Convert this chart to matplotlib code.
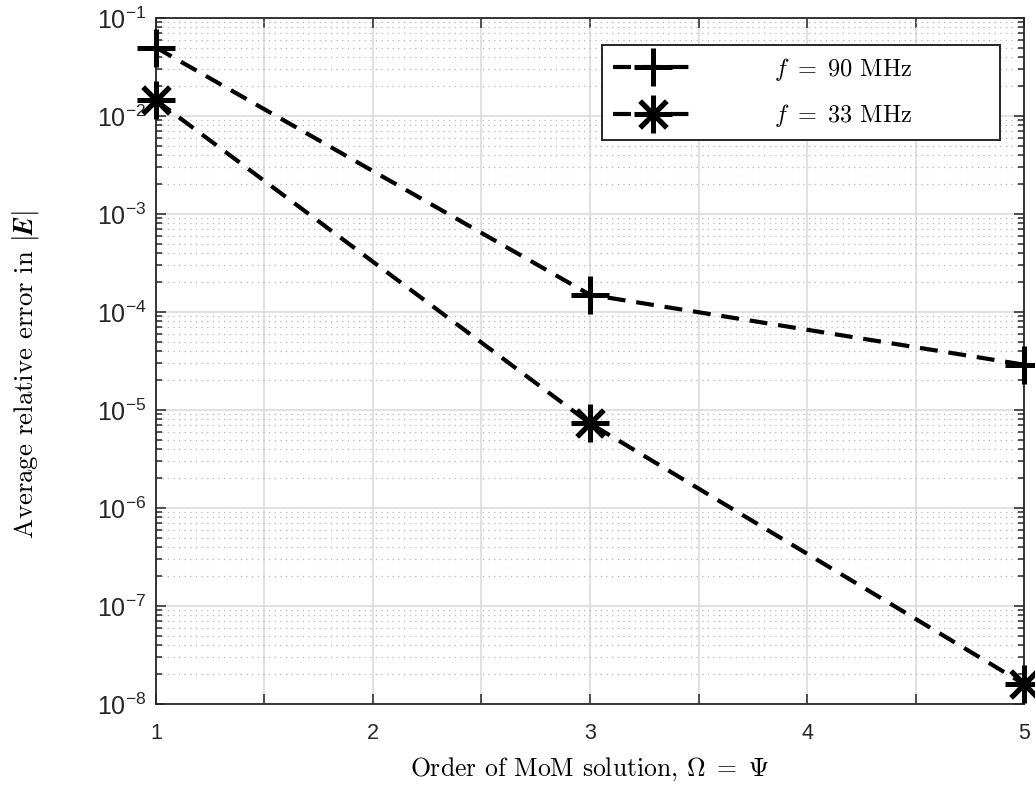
import numpy as np
import matplotlib.pyplot as plt
from matplotlib.ticker import FixedLocator, LogLocator, NullFormatter, FuncFormatter

# data
order = [1, 3, 5]
err_90 = [5.0e-2, 1.5e-4, 2.9e-5]
err_33 = [1.45e-2, 7.3e-6, 1.6e-8]
labels = [r'$f\ =\ 90$ MHz', r'$f\ =\ 33$ MHz']

dark = '#262626'
plt.rcParams['mathtext.rm'] = 'Liberation Sans'
plt.rcParams['mathtext.it'] = 'Liberation Sans:italic'

fig = plt.figure(figsize=(10.35, 8.0), dpi=100)
ax = fig.add_axes([0.1507, 0.12, 0.8387, 0.8575])

star = (8, 2, 0)
dash = (0, (4.3, 2.6))
ax.plot(order, err_90, color='k', linestyle=dash, linewidth=3.0,
        marker='+', markersize=28, markeredgewidth=3.6, label=labels[0],
        clip_on=False, zorder=5)
ax.plot(order, err_33, color='k', linestyle=dash, linewidth=3.0,
        marker=star, markersize=27, markeredgewidth=3.6, label=labels[1],
        clip_on=False, zorder=5)

ax.set_yscale('log')
ax.set_xlim(1, 5)
ax.set_ylim(1e-8, 1e-1)

# x: ticks every 0.5, labels on integers only
ax.xaxis.set_major_locator(FixedLocator(np.arange(1, 5.01, 0.5)))
ax.xaxis.set_major_formatter(FuncFormatter(
    lambda v, p: '%d' % v if abs(v - round(v)) < 1e-6 else ''))

ax.yaxis.set_major_locator(LogLocator(base=10, numticks=20))
ax.yaxis.set_minor_locator(LogLocator(base=10, subs=np.arange(2, 10), numticks=20))
ax.yaxis.set_minor_formatter(NullFormatter())
ax.yaxis.set_major_formatter(FuncFormatter(lambda v, p: r'$10^{%d}$' % round(np.log10(v))))

ax.grid(True, which='major', color='#dcdcdc', linewidth=1.2, linestyle='-')
ax.grid(True, which='minor', axis='y', color='#b5b5b5', linewidth=0.9,
        linestyle=(0, (1, 3.5)))
ax.set_axisbelow(True)

ax.tick_params(which='both', direction='in', top=True, right=True,
               colors=dark, labelcolor=dark)
ax.tick_params(which='major', length=7, width=1.1)
ax.tick_params(axis='x', which='major', labelsize=15.5, pad=14)
ax.tick_params(axis='y', which='major', labelsize=18, pad=7)
ax.tick_params(which='minor', length=4, width=1.1)
for lab in ax.get_xticklabels() + ax.get_yticklabels():
    lab.set_fontfamily('Liberation Sans')
    lab.set_math_fontfamily('custom')
for s in ax.spines.values():
    s.set_color(dark)
    s.set_linewidth(1.3)

ax.set_xlabel(r'Order of MoM solution, $\Omega\ =\ \Psi$', fontsize=18.5,
              fontfamily='cmr10', math_fontfamily='cm', labelpad=8)
ax.set_ylabel(r'Average relative error in $|\mathbfit{E}|$', fontsize=19.3,
              fontfamily='cmr10', math_fontfamily='cm', labelpad=40)
ax.yaxis.label.set_y(0.48)

leg = ax.legend(loc='upper left', bbox_to_anchor=(0.514, 0.0, 0.458, 0.961),
                mode='expand', borderaxespad=0,
                prop={'family': 'cmr10', 'size': 17.5}, handlelength=3.3,
                handletextpad=3.3, borderpad=0.45, labelspacing=0.8,
                fancybox=False, framealpha=1, edgecolor=dark)
leg.get_frame().set_linewidth(1.4)
for t in leg.get_texts():
    t.set_math_fontfamily('cm')

fig.savefig('out.png', dpi=100)
